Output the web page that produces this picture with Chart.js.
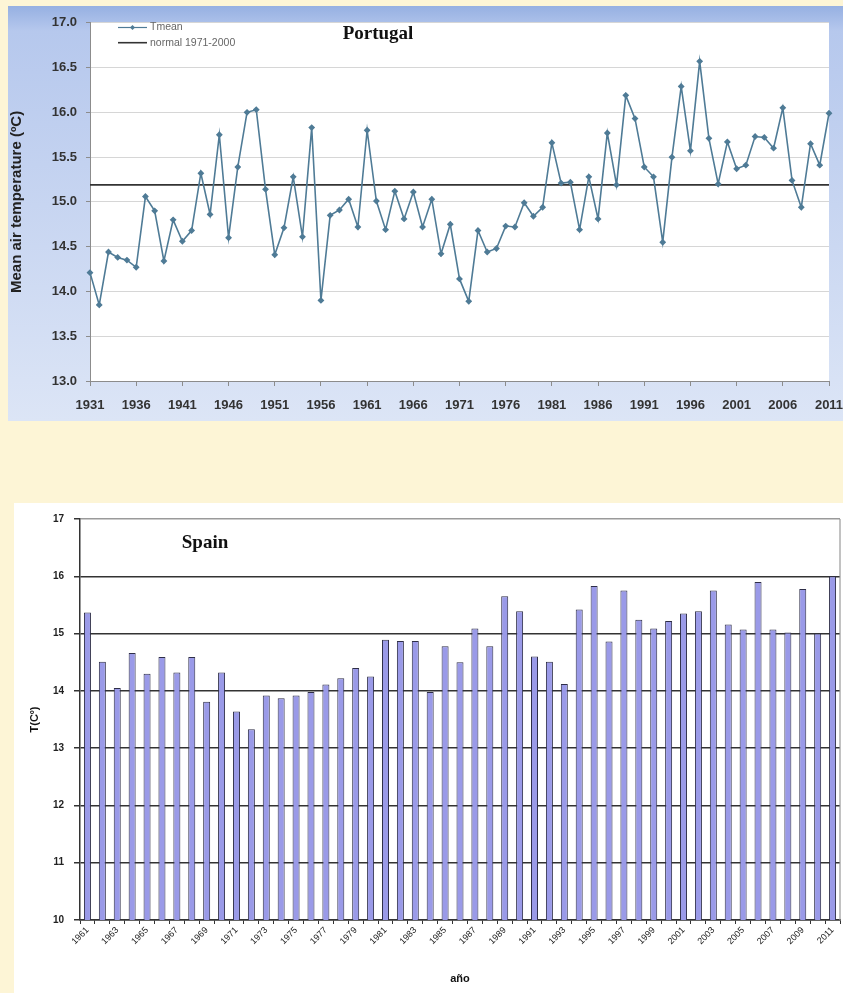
<!DOCTYPE html>
<html><head><meta charset="utf-8">
<script src="https://cdn.jsdelivr.net/npm/chart.js@4"></script>
<style>
html,body{margin:0;padding:0;background:#fdf5d6;}
body{width:843px;height:993px;position:relative;overflow:hidden;}
#c1{position:absolute;left:8px;top:6px;}
#c2{position:absolute;left:14px;top:503px;background:#fff;}
</style></head><body>
<canvas id="c1" width="835" height="415"></canvas>
<canvas id="c2" width="829" height="490"></canvas>
<script>
// ---------- DATA ----------
const portugalYears = ['1931','1932','1933','1934','1935','1936','1937','1938','1939','1940',
'1941','1942','1943','1944','1945','1946','1947','1948','1949','1950',
'1951','1952','1953','1954','1955','1956','1957','1958','1959','1960',
'1961','1962','1963','1964','1965','1966','1967','1968','1969','1970',
'1971','1972','1973','1974','1975','1976','1977','1978','1979','1980',
'1981','1982','1983','1984','1985','1986','1987','1988','1989','1990',
'1991','1992','1993','1994','1995','1996','1997','1998','1999','2000',
'2001','2002','2003','2004','2005','2006','2007','2008','2009','2010','2011'];
const portugalTmean = [14.21,13.85,14.44,14.38,14.35,14.27,15.06,14.90,14.34,14.80,
14.56,14.68,15.32,14.86,15.75,14.60,15.39,16.00,16.03,15.14,
14.41,14.71,15.28,14.61,15.83,13.90,14.85,14.91,15.03,14.72,
15.80,15.01,14.69,15.12,14.81,15.11,14.72,15.03,14.42,14.75,
14.14,13.89,14.68,14.44,14.48,14.73,14.72,14.99,14.84,14.94,
15.66,15.21,15.22,14.69,15.28,14.81,15.77,15.19,16.19,15.93,
15.39,15.28,14.55,15.50,16.29,15.57,16.57,15.71,15.20,15.67,
15.37,15.41,15.73,15.72,15.60,16.05,15.24,14.94,15.65,15.41,15.99];
const portugalNormal = 15.19; // normal 1971-2000
const portugalYTicks = {min:13, max:17, step:0.5};

const spainYears = ['1961','1962','1963','1964','1965','1966','1967','1968','1969','1970',
'1971','1972','1973','1974','1975','1976','1977','1978','1979','1980',
'1981','1982','1983','1984','1985','1986','1987','1988','1989','1990',
'1991','1992','1993','1994','1995','1996','1997','1998','1999','2000',
'2001','2002','2003','2004','2005','2006','2007','2008','2009','2010','2011'];
const spainTemps = [15.37,14.51,14.05,14.66,14.30,14.59,14.32,14.59,13.81,14.32,
13.64,13.33,13.92,13.87,13.92,13.98,14.11,14.22,14.40,14.25,
14.89,14.87,14.87,13.98,14.78,14.50,15.09,14.78,15.65,15.39,
14.60,14.51,14.12,15.42,15.83,14.86,15.75,15.24,15.09,15.22,
15.35,15.39,15.75,15.16,15.07,15.90,15.07,15.02,15.78,15.00,16.00];
const spainYTicks = {min:10, max:17, step:1};

// ---------- STYLE ----------
Chart.defaults.font.family = '"Liberation Sans", Arial, sans-serif';
const lineColor = '#4f7b96';

// ---------- PORTUGAL ----------
const frameBg = {
  id:'frameBg',
  beforeDraw(chart){
    const {ctx,width,height,chartArea:a} = chart;
    ctx.save();
    const g = ctx.createLinearGradient(0,0,0,height);
    g.addColorStop(0,'#96b0e2');
    g.addColorStop(0.06,'#b6c8ed');
    g.addColorStop(1,'#dce5f6');
    ctx.fillStyle = g;
    ctx.fillRect(0,0,width,height);
    ctx.fillStyle = '#ffffff';
    ctx.fillRect(a.left,a.top,a.right-a.left,a.bottom-a.top);
    ctx.restore();
  }
};
const topDeco = {
  id:'topDeco',
  afterDraw(chart){
    const ctx = chart.ctx;
    ctx.save();
    ctx.font = 'bold 19px "Liberation Serif", serif';
    ctx.fillStyle = '#111';
    ctx.textAlign = 'center';
    ctx.textBaseline = 'middle';
    ctx.fillText('Portugal', 370, 28);
    // legend
    ctx.lineWidth = 1.2;
    ctx.strokeStyle = lineColor;
    ctx.beginPath(); ctx.moveTo(110,21.5); ctx.lineTo(139,21.5); ctx.stroke();
    ctx.fillStyle = lineColor;
    ctx.beginPath(); ctx.moveTo(124.5,19); ctx.lineTo(127,21.5); ctx.lineTo(124.5,24); ctx.lineTo(122,21.5); ctx.closePath(); ctx.fill();
    ctx.strokeStyle = '#333'; ctx.lineWidth = 1.6;
    ctx.beginPath(); ctx.moveTo(110,36.7); ctx.lineTo(139,36.7); ctx.stroke();
    ctx.font = '10.5px "Liberation Sans", Arial, sans-serif';
    ctx.fillStyle = '#666';
    ctx.textAlign = 'left';
    ctx.fillText('Tmean', 142, 21.5);
    ctx.fillText('normal 1971-2000', 142, 36.7);
    ctx.restore();
  }
};

new Chart(document.getElementById('c1'), {
  type:'line',
  data:{
    labels: portugalYears,
    datasets:[
      {label:'Tmean', data: portugalTmean, borderColor: lineColor, backgroundColor: lineColor,
       borderWidth:1.6, pointStyle:'rectRot', pointRadius:2.3, pointHoverRadius:2.3, tension:0, order:1},
      {label:'normal 1971-2000', data: portugalYears.map(()=>portugalNormal), borderColor:'#333',
       borderWidth:1.8, pointRadius:0, tension:0, order:2}
    ]
  },
  options:{
    responsive:false, animation:false,
    layout:{padding:{top:12, right:14, left:0, bottom:0}},
    plugins:{legend:{display:false}, tooltip:{enabled:false}},
    scales:{
      x:{
        offset:false,
        grid:{drawOnChartArea:false, drawTicks:true, tickLength:5,
              color:(c)=> (c.index%5===0 ? '#8c8c8c' : 'rgba(0,0,0,0)')},
        border:{color:'#8c8c8c', width:1},
        ticks:{autoSkip:false, maxRotation:0, minRotation:0, padding:12,
               font:{size:13, weight:'bold'}, color:'#333',
               callback(v,i){ return i%5===0 ? this.getLabelForValue(v) : ''; }},
        afterFit(s){ s.height = 40; s.paddingLeft = 0; s.paddingRight = 0; }
      },
      y:{
        min: portugalYTicks.min, max: portugalYTicks.max,
        ticks:{stepSize: portugalYTicks.step, padding:9, font:{size:13, weight:'bold'}, color:'#333',
               callback:(v)=> Number(v).toFixed(1)},
        grid:{color:'#d6d6d6', lineWidth:1, tickLength:4, tickColor:'#8c8c8c'},
        border:{color:'#8c8c8c', width:1},
        title:{display:true, text:'Mean air temperature (ºC)', font:{size:15, weight:'bold'}, color:'#222', padding:{top:0,bottom:0}},
        afterFit(s){ s.width = 82; }
      }
    }
  },
  plugins:[frameBg, topDeco]
});

// ---------- SPAIN ----------
const botDeco = {
  id:'botDeco',
  afterDraw(chart){
    const {ctx, chartArea:a} = chart;
    ctx.save();
    ctx.strokeStyle = '#999'; ctx.lineWidth = 1.2;
    ctx.beginPath(); ctx.moveTo(a.right, a.top); ctx.lineTo(a.right, a.bottom); ctx.stroke();
    ctx.font = 'bold 19px "Liberation Serif", serif';
    ctx.fillStyle = '#111';
    ctx.textAlign = 'center';
    ctx.textBaseline = 'middle';
    ctx.fillText('Spain', 191, 40);
    ctx.restore();
  }
};

new Chart(document.getElementById('c2'), {
  type:'bar',
  data:{
    labels: spainYears,
    datasets:[{data: spainTemps, backgroundColor:'#9a9ae8', borderColor:'#2e2e48', borderWidth:1,
               barPercentage:0.47, categoryPercentage:1}]
  },
  options:{
    responsive:false, animation:false,
    layout:{padding:{top:8, right:3, left:0, bottom:0}},
    plugins:{legend:{display:false}, tooltip:{enabled:false}},
    scales:{
      x:{
        offset:true,
        grid:{offset:true, drawOnChartArea:false, drawTicks:true, tickLength:4, color:'#333'},
        border:{color:'#333', width:1.5},
        ticks:{autoSkip:false, maxRotation:45, minRotation:45, padding:1,
               font:{size:9}, color:'#222',
               callback(v,i){ return i%2===0 ? this.getLabelForValue(v) : ''; }},
        title:{display:true, text:'año', font:{size:11, weight:'bold'}, color:'#111', padding:{top:0,bottom:7}},
        afterFit(s){ s.height = 73; }
      },
      y:{
        min: spainYTicks.min, max: spainYTicks.max,
        ticks:{stepSize: spainYTicks.step, padding:10, font:{size:10, weight:'bold'}, color:'#222'},
        grid:{color:(c)=> (c.tick && c.tick.value===17 ? '#9a9a9a' : '#333'), lineWidth:1.5, tickLength:6, tickColor:'#333'},
        border:{color:'#333', width:1.5},
        title:{display:true, text:'T(Cº)', font:{size:11, weight:'bold'}, color:'#111', padding:{top:14,bottom:0}},
        afterFit(s){ s.width = 66; }
      }
    }
  },
  plugins:[botDeco]
});
</script>
</body></html>
